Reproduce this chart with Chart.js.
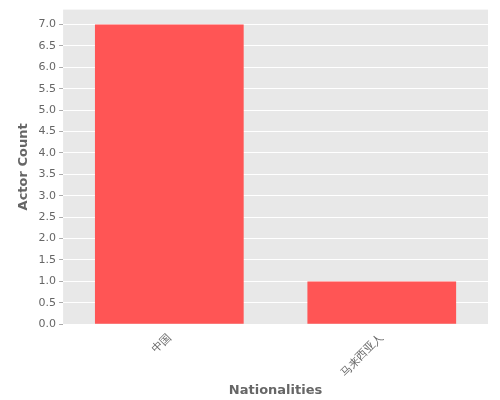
<!DOCTYPE html>
<html>
<head>
<meta charset="utf-8">
<script src="https://cdn.jsdelivr.net/npm/chart.js@4"></script>
<style>
  body { margin: 0; background: #fff; }
  #wrap { width: 500px; height: 400px; }
</style>
</head>
<body>
<div id="wrap"><canvas id="chart"></canvas></div>
<script>
const nationalities = ['中国', '马来西亚人'];
const actorCounts = [7, 1];

// grey panel behind the plot area, ggplot style
const panelBg = {
    id: 'panelBg',
    beforeDraw(chart) {
        const { ctx, chartArea: a } = chart;
        ctx.save();
        ctx.fillStyle = '#e8e8e8';
        ctx.fillRect(a.left, a.top, a.right - a.left, a.bottom - a.top);
        ctx.restore();
    }
};

new Chart(document.getElementById('chart'), {
    type: 'bar',
    data: {
        labels: nationalities,
        datasets: [{
            data: actorCounts,
            backgroundColor: '#ff5555',
            categoryPercentage: 1.0,
            barPercentage: 0.7
        }]
    },
    options: {
        responsive: true,
        maintainAspectRatio: false,
        animation: false,
        layout: { padding: { top: 6, right: 12, left: 12, bottom: 0 } },
        plugins: { legend: { display: false }, tooltip: { enabled: false } },
        scales: {
            x: {
                grid: { display: false, drawTicks: true, tickColor: '#aaa', tickLength: 4 },
                border: { display: false },
                ticks: { color: '#666', font: { family: 'DejaVu Sans', size: 11 }, maxRotation: 45, minRotation: 45 },
                title: { display: true, text: 'Nationalities', color: '#666', padding: { top: 0, bottom: 2 }, font: { family: 'DejaVu Sans', size: 13, weight: 'bold' } }
            },
            y: {
                min: 0,
                max: 7.35,
                afterBuildTicks(axis) {
                    axis.ticks = [];
                    for (let v = 0; v <= 7; v += 0.5) axis.ticks.push({ value: v });
                },
                grid: { color: '#ffffff', lineWidth: 1, tickColor: '#aaa', tickLength: 4 },
                border: { display: false },
                ticks: { color: '#666', font: { family: 'DejaVu Sans', size: 11 }, callback: v => v.toFixed(1) },
                title: { display: true, text: 'Actor Count', color: '#666', font: { family: 'DejaVu Sans', size: 13, weight: 'bold' } }
            }
        }
    },
    plugins: [panelBg]
});
</script>
</body>
</html>
